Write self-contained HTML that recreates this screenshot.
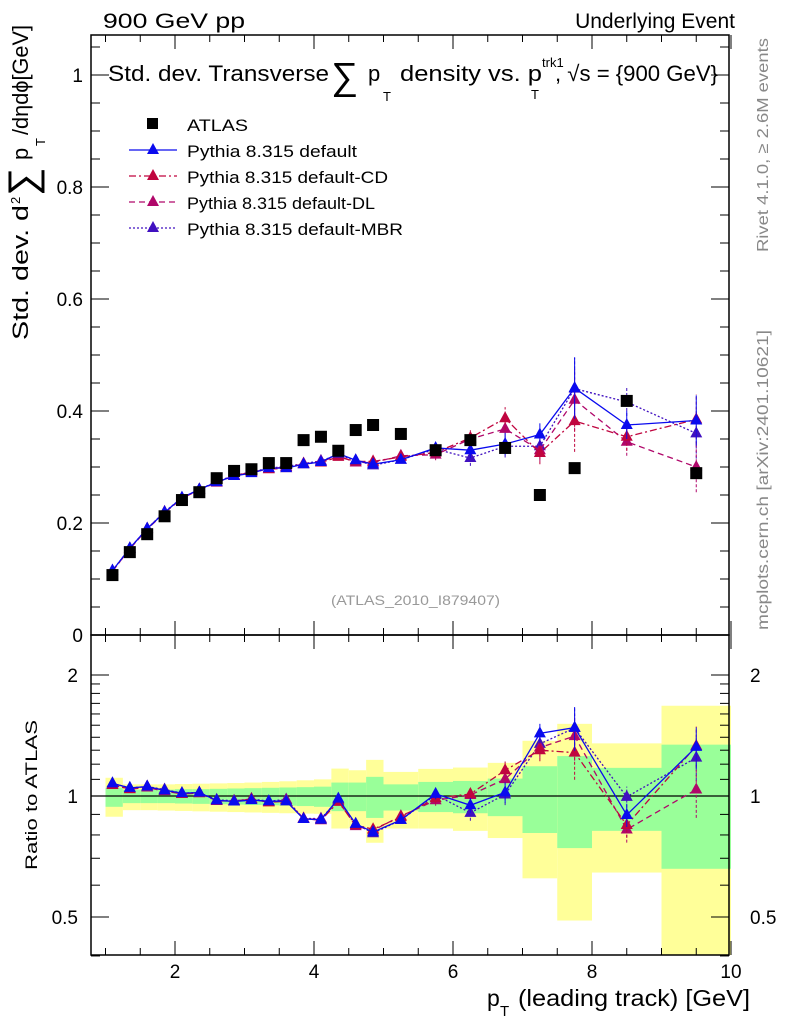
<!DOCTYPE html>
<html><head><meta charset="utf-8"><style>
html,body{margin:0;padding:0;background:#fff}
svg{display:block;font-family:"Liberation Sans",Arial,sans-serif}
</style></head><body>
<svg id="c" width="786" height="1024" viewBox="0 0 786 1024">
<g id="ratioBands"></g>
<g id="axes"></g>
<g id="marks"></g>
<g id="rmarks"></g>
<text x="103" y="28" font-size="21" textLength="142" lengthAdjust="spacingAndGlyphs">900 GeV pp</text>
<text x="735" y="28" font-size="21" text-anchor="end">Underlying Event</text>
<g font-size="22">
<text x="108" y="81" textLength="221" lengthAdjust="spacingAndGlyphs">Std. dev. Transverse</text>
<text x="331" y="89" font-size="38">∑</text>
<text x="368" y="81">p</text>
<text x="383" y="101" font-size="13">T</text>
<text x="400" y="81" textLength="142" lengthAdjust="spacingAndGlyphs">density vs. p</text>
<text x="531" y="99" font-size="13">T</text>
<text x="542" y="67" font-size="13">trk1</text>
<text x="555" y="81" textLength="163" lengthAdjust="spacingAndGlyphs">, √s = {900 GeV}</text>
</g>
<text transform="translate(768,252) rotate(-90)" font-size="16" fill="#888" textLength="214" lengthAdjust="spacingAndGlyphs">Rivet 4.1.0, ≥ 2.6M events</text>
<text transform="translate(768,630) rotate(-90)" font-size="16" fill="#888" textLength="300" lengthAdjust="spacingAndGlyphs">mcplots.cern.ch [arXiv:2401.10621]</text>
<text x="331" y="605" font-size="14" fill="#999" textLength="169" lengthAdjust="spacingAndGlyphs">(ATLAS_2010_I879407)</text>
<g font-size="22">
<text transform="translate(28,340) rotate(-90)" textLength="135" lengthAdjust="spacingAndGlyphs">Std. dev. d</text>
<text transform="translate(20,204) rotate(-90)" font-size="13">2</text>
<text transform="translate(36,196) rotate(-90)" font-size="40">∑</text>
<text transform="translate(28,160) rotate(-90)">p</text>
<text transform="translate(45,146) rotate(-90)" font-size="13">T</text>
<text transform="translate(28,135) rotate(-90)" textLength="110" lengthAdjust="spacingAndGlyphs">/dηdϕ[GeV]</text>
</g>
<text transform="translate(37,870) rotate(-90)" font-size="17" textLength="150" lengthAdjust="spacingAndGlyphs">Ratio to ATLAS</text>
<g font-size="23">
<text x="487" y="1006">p</text>
<text x="500" y="1016" font-size="15">T</text>
<text x="518" y="1006" textLength="232" lengthAdjust="spacingAndGlyphs">(leading track) [GeV]</text>
</g>
<g id="legend"></g>
</svg>
<script>
const xs = [1.1,1.35,1.6,1.85,2.1,2.35,2.6,2.85,3.1,3.35,3.6,3.85,4.1,4.35,4.6,4.85,5.25,5.75,6.25,6.75,7.25,7.75,8.5,9.5];
const edges = [1,1.25,1.5,1.75,2,2.25,2.5,2.75,3,3.25,3.5,3.75,4,4.25,4.5,4.75,5,5.5,6,6.5,7,7.5,8,9,10];
const atlas = [0.107,0.148,0.180,0.212,0.241,0.255,0.280,0.293,0.296,0.307,0.307,0.348,0.354,0.329,0.366,0.375,0.359,0.330,0.348,0.334,0.250,0.298,0.418,0.289];
const pyDefault = [0.115,0.155,0.190,0.219,0.245,0.260,0.273,0.284,0.289,0.298,0.298,0.305,0.309,0.324,0.312,0.305,0.313,0.334,0.330,0.341,0.358,0.441,0.375,0.383];
const pyCD = [0.114,0.154,0.190,0.219,0.244,0.259,0.273,0.284,0.291,0.296,0.298,0.306,0.308,0.318,0.310,0.310,0.318,0.326,0.352,0.387,0.325,0.382,0.354,0.385];
const pyDL = [0.114,0.154,0.189,0.218,0.244,0.260,0.272,0.285,0.290,0.297,0.300,0.305,0.310,0.320,0.308,0.308,0.320,0.322,0.350,0.368,0.330,0.420,0.345,0.300];
const pyMBR = [0.115,0.155,0.190,0.220,0.245,0.260,0.274,0.285,0.291,0.298,0.301,0.306,0.311,0.322,0.312,0.303,0.313,0.332,0.316,0.337,0.337,0.440,0.416,0.360];
const mcErr = [0,0,0,0,0,0,0,0,0,0,0,0,0,0,0.004,0.005,0.006,0.01,0.014,0.02,0.02,0.055,0.025,0.045];
const yellowHi = [1.11,1.069,1.069,1.069,1.071,1.073,1.075,1.077,1.08,1.084,1.088,1.094,1.10,1.17,1.159,1.23,1.148,1.168,1.177,1.209,1.372,1.512,1.352,1.677];
const yellowLo = [0.888,0.922,0.922,0.92,0.918,0.916,0.914,0.912,0.91,0.908,0.906,0.904,0.903,0.83,0.835,0.765,0.83,0.83,0.819,0.786,0.624,0.49,0.645,0.3];
const greenHi = [1.048,1.037,1.037,1.037,1.04,1.04,1.042,1.044,1.046,1.048,1.05,1.052,1.055,1.08,1.08,1.116,1.069,1.084,1.09,1.105,1.186,1.257,1.175,1.342];
const greenLo = [0.94,0.96,0.96,0.96,0.958,0.956,0.954,0.952,0.95,0.948,0.946,0.944,0.94,0.917,0.917,0.882,0.92,0.912,0.906,0.891,0.809,0.742,0.819,0.659];
const mainTicks = [0,0.2,0.4,0.6,0.8,1];
const mainTickLabels = ["0","0.2","0.4","0.6","0.8","1"];
const xTicks = [2,4,6,8,10];
const ratioTicks = [0.5,1,2];
const ratioTickLabels = ["0.5","1","2"];

const L=91,R=729,T=35,MB=635,RB=955;
const X=v=>175+(v-2)*69.5;
const Y=v=>635-v*560;
const RY=v=>796-Math.log2(v)*121;
const NS="http://www.w3.org/2000/svg";
function mk(tag,attrs,parent){const e=document.createElementNS(NS,tag);for(const k in attrs)e.setAttribute(k,attrs[k]);parent.appendChild(e);return e;}
const ax=document.getElementById('axes'), bands=document.getElementById('ratioBands');
const marks=document.getElementById('marks'), rmarks=document.getElementById('rmarks'), leg=document.getElementById('legend');

for(let i=0;i<xs.length;i++){
  const x0=X(edges[i]),x1=X(edges[i+1]);
  const yt=Math.max(RY(yellowHi[i]),MB), yb=Math.min(RY(yellowLo[i]),RB);
  const y=mk('rect',{x:x0,y:yt,width:x1-x0,height:yb-yt,fill:'#ffff99'},bands);
  
  
  const gt=RY(greenHi[i]), gb=RY(greenLo[i]);
  const g=mk('rect',{x:x0,y:gt,width:x1-x0,height:gb-gt,fill:'#99ff99'},bands);
  
  
}
for(const [t,b] of [[T,MB],[MB,RB]]){
  const f=mk('rect',{x:L,y:t,width:R-L,height:b-t,fill:'none',stroke:'#000','stroke-width':1.5},ax);
  
  
}
mk('line',{x1:L,x2:R,y1:RY(1),y2:RY(1),stroke:'#000','stroke-width':1.2},ax);
for(let v=1;v<=10;v+=0.5){
  const major=v%2===0;
  const len=major?14:7;
  for(const [t,b] of [[T,MB],[MB,RB]]){
    mk('line',{x1:X(v),x2:X(v),y1:b,y2:b-len,stroke:'#000'},ax);
    mk('line',{x1:X(v),x2:X(v),y1:t,y2:t+len,stroke:'#000'},ax);
  }
}
xTicks.forEach(v=>{const t=mk('text',{x:X(v),y:978,'font-size':19,'text-anchor':'middle'},ax);t.textContent=v;
 });
for(let v=0;v<=1.06;v+=0.05){
  const major=Math.abs(v*5-Math.round(v*5))<1e-6;const len=major?18:9;
  mk('line',{x1:L,x2:L+len,y1:Y(v),y2:Y(v),stroke:'#000'},ax);
  mk('line',{x1:R,x2:R-len,y1:Y(v),y2:Y(v),stroke:'#000'},ax);
}
mainTicks.forEach((v,i)=>{const t=mk('text',{x:83,y:Y(v)+7,'font-size':19,'text-anchor':'end'},ax);t.textContent=mainTickLabels[i];
 });
[0.4,0.5,0.6,0.7,0.8,0.9,1,1.1,1.2,1.3,1.4,1.5,1.6,1.7,1.8,1.9,2].forEach(v=>{
  const major=ratioTicks.includes(v);const len=major?18:9;
  mk('line',{x1:L,x2:L+len,y1:RY(v),y2:RY(v),stroke:'#000'},ax);
  mk('line',{x1:R,x2:R-len,y1:RY(v),y2:RY(v),stroke:'#000'},ax);
});
ratioTicks.forEach((v,i)=>{
  const t=mk('text',{x:78,y:RY(v)+7,'font-size':19,'text-anchor':'end'},ax);t.textContent=ratioTickLabels[i];
  
  const t2=mk('text',{x:750,y:RY(v)+7,'font-size':19},ax);t2.textContent=ratioTickLabels[i];
  
});

const series=[
 {name:'default',vals:pyDefault,color:'#0a0aee',dash:''},
 {name:'default-CD',vals:pyCD,color:'#c0053f',dash:'7,3,2,3'},
 {name:'default-DL',vals:pyDL,color:'#b0076a',dash:'6,4'},
 {name:'default-MBR',vals:pyMBR,color:'#4010c0',dash:'2,2'}];
function tri(cx,cy,col,parent,nm){
  const p=mk('polygon',{points:`${cx},${cy-7} ${cx-6},${cy+4} ${cx+6},${cy+4}`,fill:col},parent);
  
  
}
series.slice().reverse().forEach(s=>{
  const pts=s.vals.map((v,i)=>`${X(xs[i])},${Y(v)}`).join(' ');
  const l=mk('polyline',{points:pts,fill:'none',stroke:s.color,'stroke-width':1.3,'stroke-dasharray':s.dash},marks);
  
  
  const rp=s.vals.map((v,i)=>`${X(xs[i])},${RY(v/atlas[i])}`).join(' ');
  const rl=mk('polyline',{points:rp,fill:'none',stroke:s.color,'stroke-width':1.3,'stroke-dasharray':s.dash},rmarks);
  
  
  s.vals.forEach((v,i)=>{
    const e=mcErr[i];
    if(e>0){
      mk('line',{x1:X(xs[i]),x2:X(xs[i]),y1:Y(v-e),y2:Y(v+e),stroke:s.color,'stroke-dasharray':s.dash?'3,2':''},marks);
      mk('line',{x1:X(xs[i]),x2:X(xs[i]),y1:RY((v-e)/atlas[i]),y2:RY((v+e)/atlas[i]),stroke:s.color,'stroke-dasharray':s.dash?'3,2':''},rmarks);
    }
    tri(X(xs[i]),Y(v),s.color,marks,'point-'+s.name);
    tri(X(xs[i]),RY(v/atlas[i]),s.color,rmarks,'ratio-point-'+s.name);
  });
});
atlas.forEach((v,i)=>{
  const r=mk('rect',{x:X(xs[i])-6,y:Y(v)-6,width:12,height:12,fill:'#000'},marks);
  
  
});
const ly=[124,150,176,202,228];
const lt=['ATLAS','Pythia 8.315 default','Pythia 8.315 default-CD','Pythia 8.315 default-DL','Pythia 8.315 default-MBR'];
const lw=[61,170,201,188,216];
lt.forEach((s,i)=>{
  const t=mk('text',{x:187,y:ly[i]+7,'font-size':17,textLength:lw[i],lengthAdjust:'spacingAndGlyphs'},leg);t.textContent=s;
  
  if(i===0){mk('rect',{x:147,y:ly[i]-6,width:11,height:11,fill:'#000'},leg);}
  else{const sr=series[i-1];
    mk('line',{x1:129,x2:177,y1:ly[i],y2:ly[i],stroke:sr.color,'stroke-width':1.3,'stroke-dasharray':sr.dash},leg);
    tri(153,ly[i],sr.color,leg,'legend-marker');}
});
</script>
</body></html>
